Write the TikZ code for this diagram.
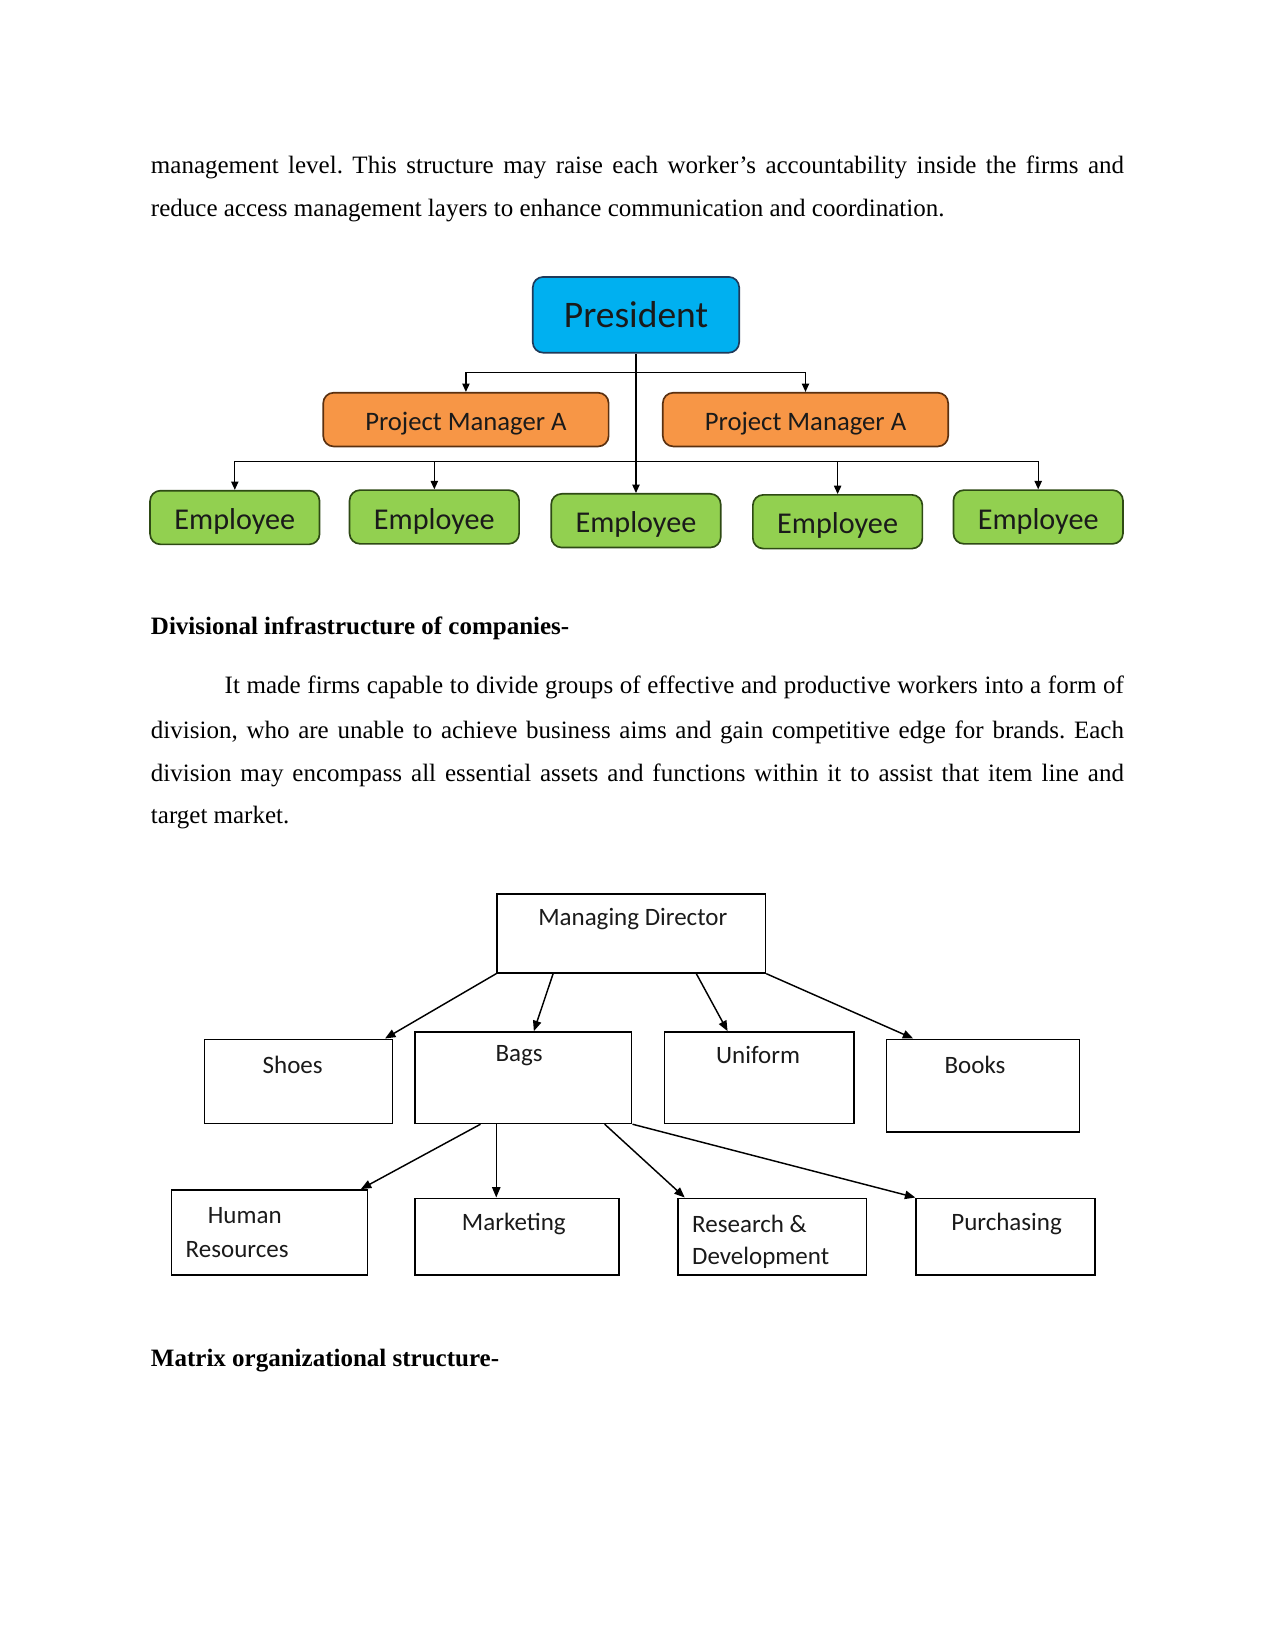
\documentclass[tikz,border=0pt]{standalone}
\usepackage{fontspec}
\setmainfont{Liberation Serif}
\newfontfamily\carlito{Carlito}
\usetikzlibrary{arrows.meta,calc}
\frenchspacing
\definecolor{presfill}{HTML}{00B0F0}
\definecolor{presdraw}{HTML}{1F3A5A}
\definecolor{pmfill}{HTML}{F79646}
\definecolor{pmdraw}{HTML}{5A3010}
\definecolor{empfill}{HTML}{92D050}
\definecolor{empdraw}{HTML}{2E4A14}
\definecolor{txtdark}{HTML}{1A1A1A}
\newcommand{\lowertxt}[1]{\raisebox{-2pt}[\height][\depth]{#1}}
\tikzset{
  body/.style={anchor=base west,inner sep=0pt,font=\fontsize{12}{14}\selectfont},
  head/.style={anchor=base west,inner sep=0pt,font=\fontsize{12}{14}\selectfont\bfseries},
  rbox/.style={rounded corners=5pt,line width=0.8pt,inner sep=0pt,text=txtdark},
  presbox/.style={rbox,fill=presfill,draw=presdraw,minimum width=196*0.50537pt,minimum height=72*0.50537pt,font=\carlito\fontsize{18}{20}\selectfont},
  pmbox/.style={rbox,fill=pmfill,draw=pmdraw,minimum width=271*0.50537pt,minimum height=51*0.50537pt,font=\carlito\fontsize{12.8}{14}\selectfont},
  empbox/.style={rbox,fill=empfill,draw=empdraw,minimum width=161*0.50537pt,minimum height=51*0.50537pt,font=\carlito\fontsize{14.5}{16}\selectfont},
  tip1/.style={-{Triangle[length=4pt,width=3.5pt]},line width=0.6pt},
  sqbox/.style={draw,line width=0.7pt,inner sep=0pt},
  boxtxt/.style={inner sep=0pt,font=\carlito\fontsize{12}{13}\selectfont,text=txtdark},
  tip2/.style={-{Triangle[length=5pt,width=4pt]},line width=0.7pt},
}
\begin{document}
\begin{tikzpicture}[x=0.50537pt,y=-0.50537pt]
\useasboundingbox (0,0) rectangle (1211,1568);
% ---- text above
\node[body] (t1) at (143,165) {\makebox[467pt][s]{management level. This structure may raise each worker’s accountability inside the firms and}};
\node[body] (t2) at (143,206) {reduce access management layers to enhance communication and coordination.};
% ---- diagram 1
\node[presbox] (pres) at (604,299) {President};
\node[pmbox] (pm1) at (442.5,398.5) {\lowertxt{Project Manager A}};
\node[pmbox] (pm2) at (765,398.5) {\lowertxt{Project Manager A}};
\node[empbox] (e1) at (223,491.5) {\lowertxt{Employee}};
\node[empbox] (e2) at (412.5,491) {\lowertxt{Employee}};
\node[empbox] (e3) at (604,494.5) {\lowertxt{Employee}};
\node[empbox] (e4) at (795.5,495.5) {\lowertxt{Employee}};
\node[empbox] (e5) at (986,491) {\lowertxt{Employee}};
\coordinate (j1) at (604,354);
\coordinate (j2) at (604,438);
\draw[tip1] (pres.south) -- (e3.north);
\draw[tip1] (j1) -| (pm1.north);
\draw[tip1] (j1) -| (pm2.north);
\draw[tip1] (j2) -| (e1.north);
\draw[tip1] (j2) -| (e2.north);
\draw[tip1] (j2) -| (e4.north);
\draw[tip1] (j2) -| (e5.north);
% ---- middle text
\node[head] (h1) at (143,603) {Divisional infrastructure of companies-};
\node[body] (p1) at (213,659) {\makebox[431.6pt][s]{It made firms capable to divide groups of effective and productive workers into a form of}};
\node[body] (p2) at (143,701) {\makebox[467pt][s]{division, who are unable to achieve business aims and gain competitive edge for brands. Each}};
\node[body] (p3) at (143,742) {\makebox[467pt][s]{division may encompass all essential assets and functions within it to assist that item line and}};
\node[body] (p4) at (143,782) {target market.};
% ---- diagram 2
\node[sqbox,minimum width=255*0.50537pt,minimum height=75*0.50537pt] (md) at (599.5,886.5) {};
\node[sqbox,minimum width=179*0.50537pt,minimum height=80*0.50537pt] (shoes) at (283.5,1027) {};
\node[sqbox,minimum width=206*0.50537pt,minimum height=87*0.50537pt] (bags) at (497,1023.5) {};
\node[sqbox,minimum width=180*0.50537pt,minimum height=87*0.50537pt] (unif) at (721,1023.5) {};
\node[sqbox,minimum width=183*0.50537pt,minimum height=88*0.50537pt] (books) at (933.5,1031) {};
\node[sqbox,minimum width=186*0.50537pt,minimum height=81*0.50537pt] (hr) at (256,1170.5) {};
\node[sqbox,minimum width=194*0.50537pt,minimum height=73*0.50537pt] (mkt) at (491,1174.5) {};
\node[sqbox,minimum width=179*0.50537pt,minimum height=73*0.50537pt] (rd) at (733.5,1174.5) {};
\node[sqbox,minimum width=170*0.50537pt,minimum height=73*0.50537pt] (pur) at (955,1174.5) {};
\node[boxtxt] (mdt) at (601,873) {Managing Director};
\node[boxtxt] (shoest) at (278,1011) {Shoes};
\node[boxtxt] (bagst) at (493,1003) {Bags};
\node[boxtxt] (unift) at (720,1002) {Uniform};
\node[boxtxt] (bookst) at (926,1011) {Books};
\node[boxtxt,anchor=west] (hrt1) at (197,1154) {Human};
\node[boxtxt,anchor=west] (hrt2) at (176,1187) {Resources};
\node[boxtxt] (mktt) at (488,1162) {Marketing};
\node[boxtxt,anchor=west] (rdt1) at (657,1162) {Research \&};
\node[boxtxt,anchor=west] (rdt2) at (657,1195) {Development};
\node[boxtxt] (purt) at (956,1162) {Purchasing};
\draw[tip2] (md.south west) -- ($(shoes.north east)+(-8,0)$);
\draw[tip2] ($(md.south west)+(54,0)$) -- ($(bags.north)+(10,0)$);
\draw[tip2] ($(md.south west)+(190,0)$) -- ($(unif.north)+(-30,0)$);
\draw[tip2] (md.south east) -- ($(books.north west)+(26,0)$);
\draw[tip2] ($(bags.south west)+(63,0)$) -- ($(hr.north east)+(-7,0)$);
\draw[tip2] ($(bags.south west)+(78,0)$) -- ($(mkt.north west)+(78,0)$);
\draw[tip2] ($(bags.south west)+(181,0)$) -- ($(rd.north west)+(7,0)$);
\draw[tip2] (bags.south east) -- (pur.north west);
% ---- bottom heading
\node[head] (h2) at (143,1298) {Matrix organizational structure-};
\end{tikzpicture}
\end{document}
